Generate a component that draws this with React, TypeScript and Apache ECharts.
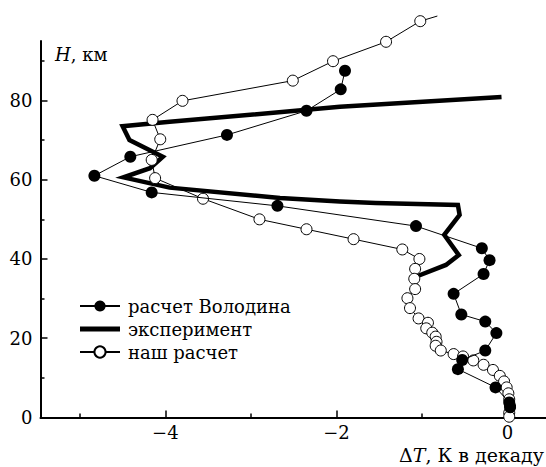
import React, { useEffect, useRef } from 'react';
import * as echarts from 'echarts';

// расчет Володина (filled circles)
const volodinDT = [-1.90, -1.95, -2.35, -3.28, -4.41, -4.83, -4.16, -2.69, -1.07, -0.30, -0.21, -0.28, -0.63, -0.54, -0.26, -0.13, -0.26, -0.53, -0.58, -0.14, 0.02, 0.03];
const volodinH = [87.5, 82.8, 77.4, 71.3, 65.8, 61.0, 56.8, 53.4, 48.3, 42.7, 39.7, 36.2, 31.2, 26.0, 24.2, 21.3, 16.9, 14.5, 12.2, 7.6, 3.8, 2.6];

// эксперимент (thick line)
const expDT = [-0.07, -1.96, -3.95, -4.50, -4.42, -4.03, -4.18, -4.49, -4.20, -3.95, -2.66, -1.96, -1.54, -0.58, -0.56, -0.74, -0.57, -0.72, -1.05];
const expH = [80.9, 78.4, 74.6, 73.5, 70.0, 65.8, 62.9, 60.6, 59.2, 58.0, 55.4, 54.5, 54.1, 53.6, 51.1, 46.1, 41.0, 38.5, 35.7];

// наш расчет (open circles)
const oursDT = [-0.82, -1.02, -1.42, -2.04, -2.51, -3.80, -4.15, -4.06, -4.16, -4.12, -3.56, -2.90, -2.35, -1.80, -1.23, -1.03, -1.08, -1.09, -1.08, -1.17, -1.14, -1.04, -0.93, -0.95, -0.88, -0.84, -0.83, -0.84, -0.78, -0.63, -0.52, -0.40, -0.28, -0.17, -0.09, -0.04, -0.01, 0.01, 0.02, 0.03, 0.02, 0.02];
const oursH = [101.3, 100.0, 94.8, 89.9, 85.0, 79.9, 75.1, 70.2, 65.0, 60.4, 55.2, 50.0, 47.5, 45.0, 42.4, 40.0, 37.5, 35.0, 32.4, 30.1, 27.6, 25.0, 23.9, 22.5, 21.4, 20.4, 19.1, 18.1, 16.9, 16.0, 15.4, 14.4, 13.3, 12.0, 10.5, 9.1, 7.6, 6.1, 4.6, 2.9, 1.2, 0.2];

const xMajorTicks = [-4, -2, 0];
const xMinorTicks = [-5, -3, -1];
const yMajorTicks = [0, 20, 40, 60, 80];
const yMinorTicks = [10, 30, 50, 70, 90];

const seriesNames = ['расчет Володина', 'эксперимент', 'наш расчет'];
const xTitle = '{n|Δ}{i|T}{n|, К в декаду}';
const yTitle = '{i|H}{n|, км}';

const FONT = '"DejaVu Serif", serif';

const fmt = (v: number) => (v < 0 ? '\u2212' + Math.abs(v) : String(v));

export default function App() {
  const ref = useRef<HTMLDivElement>(null);
  useEffect(() => {
    document.body.style.margin = '0';
    const chart = echarts.init(ref.current as HTMLDivElement, null, { renderer: 'svg' });
    const zip = (xs: number[], ys: number[]) => xs.map((x, i) => [x, ys[i]]);
    const oursData = zip(oursDT, oursH).map((p, i) => (i === 0 ? { value: p, symbol: 'none' } : p));
    const xRange = { min: -5.46, max: 0.45 };
    const yRange = { min: 0, max: 95 };
    const black = '#000';
    const tickStyle = { color: black, width: 1.5 };
    const richTitle = (size: number) => ({
      i: { fontStyle: 'italic', fontSize: size, fontFamily: FONT, fill: black },
      n: { fontSize: size, fontFamily: FONT, fill: black },
    });

    chart.setOption({
      animation: false,
      textStyle: { fontFamily: FONT },
      grid: { left: 40.5, right: 0, top: 41, bottom: 49.5, containLabel: false },
      legend: {
        data: [
          { name: seriesNames[0] },
          { name: seriesNames[1], icon: 'path://M0,0H40V5H0Z' },
          { name: seriesNames[2] },
        ],
        orient: 'vertical',
        left: 79,
        top: 297,
        padding: 0,
        itemWidth: 40,
        itemHeight: 14,
        itemGap: 5,
        symbolKeepAspect: true,
        textStyle: { fontFamily: FONT, fontSize: 18, color: black, padding: [0, 0, 0, 3] },
      },
      xAxis: [
        {
          type: 'value',
          ...xRange,
          position: 'bottom',
          axisLine: { show: true, onZero: false, lineStyle: { color: black, width: 2 } },
          axisTick: { show: true, inside: true, length: 7, customValues: xMajorTicks, lineStyle: tickStyle },
          axisLabel: { show: true, customValues: xMajorTicks, formatter: fmt, margin: 6, color: black, fontSize: 18, fontFamily: FONT },
          splitLine: { show: false },
        },
        {
          type: 'value',
          ...xRange,
          position: 'bottom',
          axisLine: { show: false, onZero: false },
          axisTick: { show: true, inside: true, length: 4, customValues: xMinorTicks, lineStyle: tickStyle },
          axisLabel: { show: false },
          splitLine: { show: false },
        },
      ],
      yAxis: [
        {
          type: 'value',
          ...yRange,
          position: 'left',
          axisLine: { show: true, onZero: false, lineStyle: { color: black, width: 2 } },
          axisTick: { show: true, inside: true, length: 7, customValues: yMajorTicks, lineStyle: tickStyle },
          axisLabel: { show: true, customValues: yMajorTicks, formatter: fmt, margin: 8, color: black, fontSize: 18, fontFamily: FONT },
          splitLine: { show: false },
        },
        {
          type: 'value',
          ...yRange,
          position: 'left',
          axisLine: { show: false, onZero: false },
          axisTick: { show: true, inside: true, length: 4, customValues: yMinorTicks, lineStyle: tickStyle },
          axisLabel: { show: false },
          splitLine: { show: false },
        },
      ],
      graphic: [
        {
          type: 'text',
          left: 55,
          top: 45,
          style: { text: yTitle, fill: black, font: '18px ' + FONT, rich: richTitle(18) },
        },
        {
          type: 'text',
          right: 2,
          top: 445,
          style: { text: xTitle, fill: black, font: '19px ' + FONT, rich: richTitle(19) },
        },
      ],
      series: [
        {
          name: seriesNames[1],
          type: 'line',
          data: zip(expDT, expH),
          symbol: 'none',
          lineStyle: { color: black, width: 4.5, join: 'miter' },
          itemStyle: { color: black },
          clip: false,
          z: 2,
        },
        {
          name: seriesNames[2],
          type: 'line',
          data: oursData,
          symbol: 'circle',
          symbolSize: 11,
          lineStyle: { color: black, width: 1 },
          itemStyle: { color: '#fff', borderColor: black, borderWidth: 1 },
          clip: false,
          z: 3,
        },
        {
          name: seriesNames[0],
          type: 'line',
          data: zip(volodinDT, volodinH),
          symbol: 'circle',
          symbolSize: 12,
          lineStyle: { color: black, width: 1 },
          itemStyle: { color: black },
          clip: false,
          z: 4,
        },
      ],
    });
    return () => chart.dispose();
  }, []);
  return <div ref={ref} style={{ width: 546, height: 467, background: '#fff' }} />;
}
